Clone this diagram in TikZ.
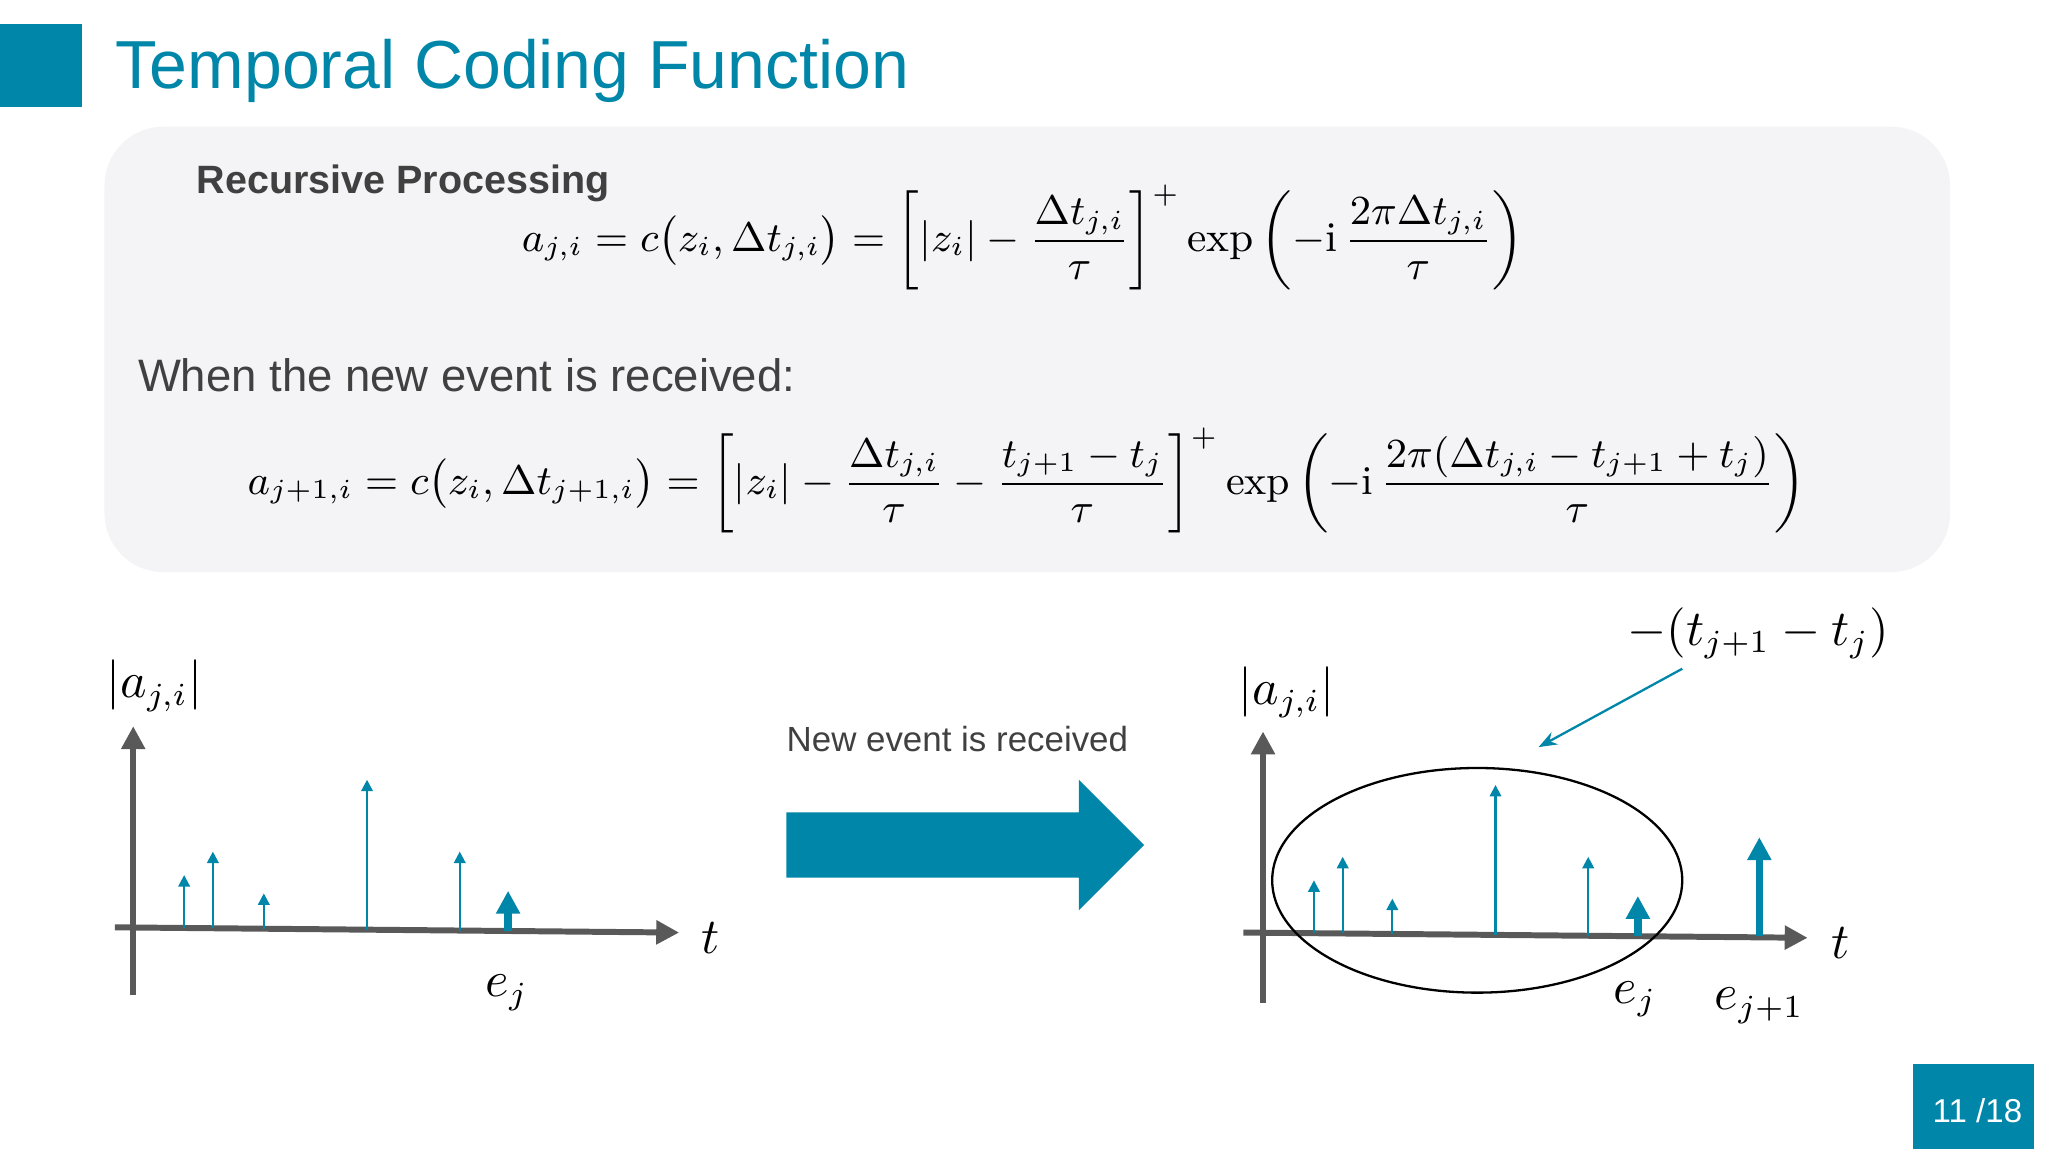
\documentclass[tikz,border=0pt]{standalone}
\usepackage{amsmath}
\usepackage{fontspec}
\setsansfont{Liberation Sans}
\usetikzlibrary{arrows.meta}
\definecolor{teal}{HTML}{0086A8}
\definecolor{axg}{HTML}{595959}
\definecolor{boxg}{HTML}{F4F3F5}
\begin{document}
\begin{tikzpicture}[x=0.01cm,y=-0.01cm,
  axis/.style={draw=axg,line width=1.3pt,-{Triangle[length=5pt,width=5pt]}},
  spike/.style={draw=teal,line width=0.5pt,-{Triangle[length=2.5pt,width=2.5pt]}},
  bigspike/.style={draw=teal,line width=1.6pt,-{Triangle[length=5pt,width=5pt]}},
  lab/.style={font=\fontsize{10.5}{13}\selectfont},
  txt/.style={font=\sffamily\fontsize{9.9}{11}\selectfont,text=black!75,inner sep=0}]
\useasboundingbox (0,0) rectangle (1568,882);
\fill[teal] (0,18) rectangle (63,82);
\node[anchor=base west,inner sep=0,text=teal,font=\sffamily\fontsize{14.8}{18}\selectfont] (title) at (88,68) {Temporal Coding Function};
\fill[boxg,rounded corners=0.45cm] (80,97) rectangle (1493,438);
\node[anchor=base west,txt,font=\sffamily\bfseries\fontsize{8.6}{10}\selectfont] (rp) at (150,148) {Recursive Processing};
\node[inner sep=0,font=\fontsize{9.2}{11}\selectfont] (eq1) at (783,182) {$a_{j,i}=c\big(z_i,\Delta t_{j,i}\big)=\left[|z_i|-\dfrac{\Delta t_{j,i}}{\tau}\right]^{+}\exp\left(-\mathrm{i}\,\dfrac{2\pi\Delta t_{j,i}}{\tau}\right)$};
\node[anchor=base west,txt] (when) at (105,300) {When the new event is received:};
\node[inner sep=0,font=\fontsize{8.9}{11}\selectfont] (eq2) at (786,368) {$a_{j+1,i}=c\big(z_i,\Delta t_{j+1,i}\big)=\left[|z_i|-\dfrac{\Delta t_{j,i}}{\tau}-\dfrac{t_{j+1}-t_j}{\tau}\right]^{+}\exp\left(-\mathrm{i}\,\dfrac{2\pi(\Delta t_{j,i}-t_{j+1}+t_j)}{\tau}\right)$};
% left plot
\coordinate (ly0) at (102,762); \coordinate (ly1) at (102,556);
\coordinate (lx0) at (88,710); \coordinate (lx1) at (520,714);
\draw[axis] (ly0) -- (ly1);
\draw[axis] (lx0) -- (lx1);
\foreach \x/\t in {141/670,163/652,202/684,281/597,352/652}{
  \draw[spike] (\x,{710+(\x-88)*4/432}) -- (\x,\t);}
\draw[bigspike] (389,713) -- (389,682);
\node[lab] (la) at (118,525) {$|a_{j,i}|$};
\node[lab] (lt) at (544,718) {$t$};
\node[lab] (le) at (388,760) {$e_j$};
% big arrow
\fill[teal] (602,622) -- (826,622) -- (826,597) -- (876,647) -- (826,697) -- (826,672) -- (602,672) -- cycle;
\node[txt,font=\sffamily\fontsize{7.6}{9}\selectfont] (ne) at (733,566) {New event is received};
% right plot
\coordinate (ry0) at (967,768); \coordinate (ry1) at (967,560);
\coordinate (rx0) at (952,714); \coordinate (rx1) at (1384,718);
\draw[axis] (ry0) -- (ry1);
\draw[axis] (rx0) -- (rx1);
\foreach \x/\t in {1006/674,1028/656,1066/688,1145/601,1216/656}{
  \draw[spike] (\x,{714+(\x-952)*4/432}) -- (\x,\t);}
\draw[bigspike] (1254,717) -- (1254,686);
\draw[bigspike] (1347,717) -- (1347,641);
\draw[black,line width=0.5pt] (1131,674) ellipse [x radius=157,y radius=86];
\node[lab] (ra) at (985,530) {$|a_{j,i}|$};
\node[lab] (rt) at (1409,722) {$t$};
\node[lab] (re) at (1252,765) {$e_j$};
\node[lab] (re1) at (1347,770) {$e_{j+1}$};
\node[lab] (dt) at (1346,485) {$-(t_{j+1}-t_j)$};
\coordinate (ae) at (1178,572);
\draw[teal,line width=0.5pt,-{Stealth[length=4pt]}] (1288,512) -- (ae);
% page
\fill[teal] (1465,815) rectangle (1557,880);
\node[text=white,font=\sffamily\fontsize{7.2}{9}\selectfont] (pg) at (1514,850) {11 /18};
\end{tikzpicture}
\end{document}
